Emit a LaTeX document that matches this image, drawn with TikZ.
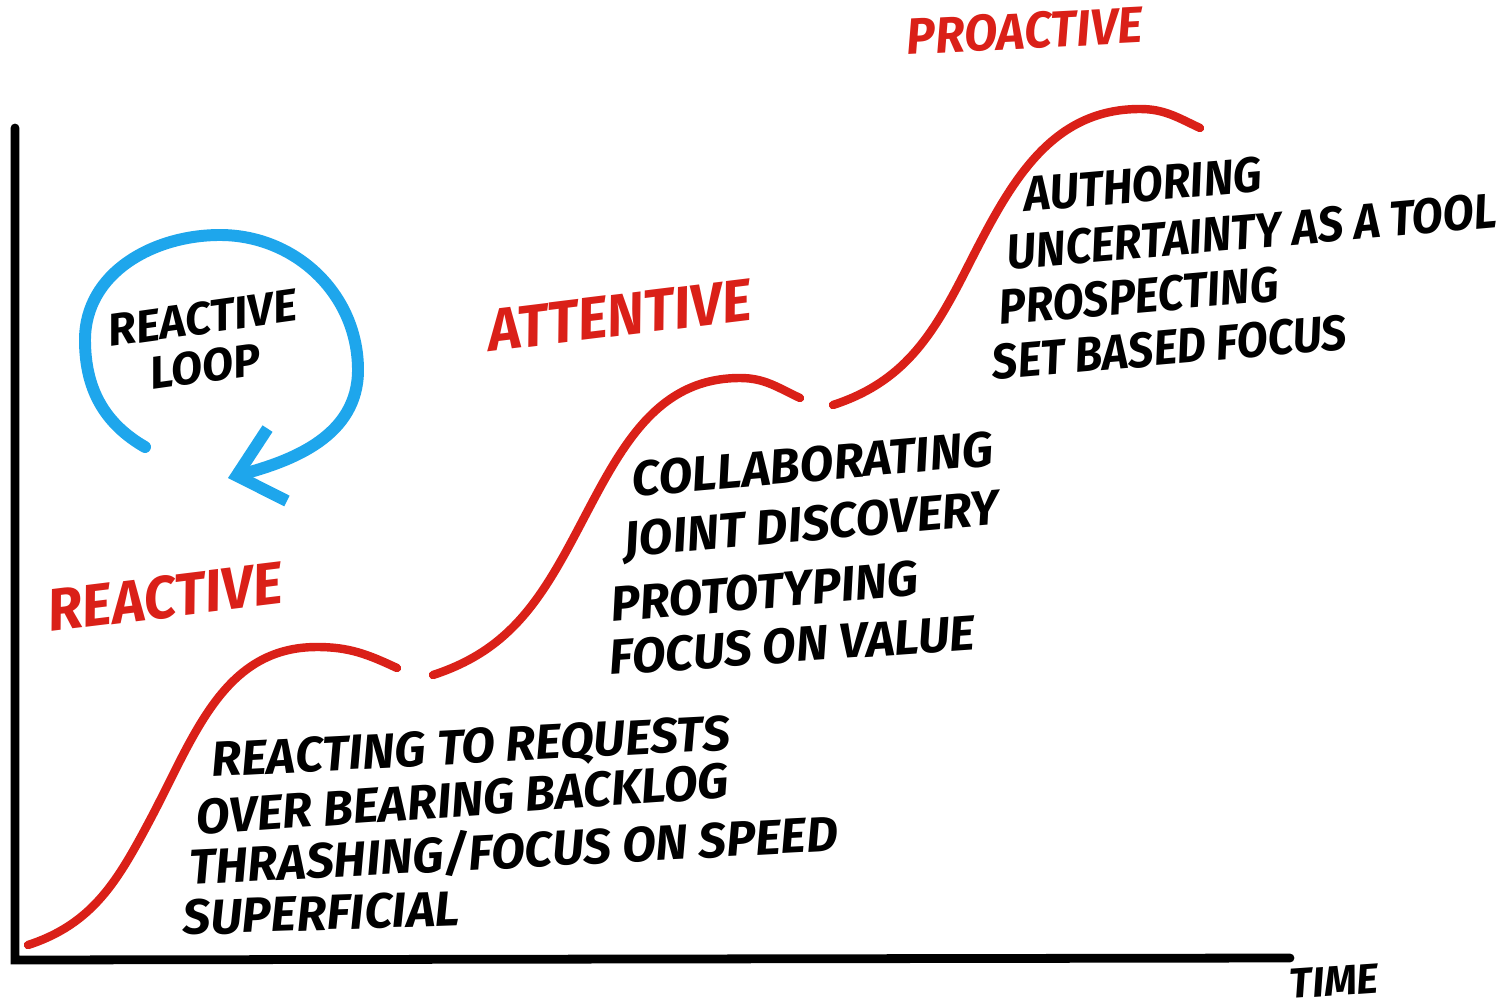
\documentclass[tikz,border=0pt]{standalone}
\usepackage{fontspec}
\newfontfamily\handfont[FakeStretch=1.0]{Fira Sans}
\newfontfamily\narrowhand[FakeStretch=0.92]{Fira Sans}
\newfontfamily\stagehand[FakeStretch=0.95]{Fira Sans}
\usetikzlibrary{arrows.meta}
\definecolor{markerred}{RGB}{218,32,24}
\definecolor{markerblue}{RGB}{30,166,236}
\begin{document}
\begin{tikzpicture}[
    growth/.style={markerred,line width=2.4pt,line cap=round},
    item/.style={anchor=base west,inner sep=0pt,rotate=#1,
                 font=\handfont\bfseries\itshape\fontsize{14}{17}\selectfont},
    narrowitem/.style={item=#1,font=\narrowhand\bfseries\itshape\fontsize{14}{17}\selectfont},
    stage/.style={anchor=base west,inner sep=0pt,text=markerred,
                  font=\stagehand\bfseries\itshape\fontsize{17}{20}\selectfont}]
  \useasboundingbox (0,0) rectangle (14.99,10.07);
  % axes
  \coordinate (top) at (0.15,8.79);
  \coordinate (origin) at (0.15,0.47);
  \coordinate (right) at (12.90,0.49);
  \draw[line width=2.5pt,line cap=round] (top) -- (origin) -- (right);
  \node[anchor=base west,inner sep=0pt,rotate=4,
        font=\handfont\bfseries\itshape\fontsize{12}{14}\selectfont] (time) at (12.90,0.08) {TIME};
  % growth curves
  \draw[growth] (0.28,0.62) to[out=18,in=-118] (1.50,1.87) to[out=62,in=180] (3.17,3.60) to[out=0,in=155] (3.97,3.39);
  \draw[growth] (4.33,3.32) to[out=18,in=-118] (5.75,4.72) to[out=62,in=180] (7.40,6.29) to[out=0,in=155] (8.00,6.09);
  \draw[growth] (8.33,6.02) to[out=18,in=-117] (9.65,7.35) to[out=63,in=180] (11.40,8.98) to[out=0,in=155] (12.00,8.79);
  % stage names
  \node[stage,rotate=7] (reactive) at (0.50,3.75) {REACTIVE};
  \node[stage,rotate=7] (attentive) at (4.90,6.55) {ATTENTIVE};
  \node[stage,rotate=3,font=\stagehand\bfseries\itshape\fontsize{14.5}{17}\selectfont] (proactive) at (9.07,9.52) {PROACTIVE};
  % reactive loop
  \draw[markerblue,line width=3.4pt,line cap=round,-{Straight Barb[length=0.42cm,width=0.75cm]}]
    (1.45,5.60) to[out=150,in=-90] (0.85,6.67) to[out=90,in=180] (2.20,7.72)
    to[out=0,in=90] (3.58,6.37) to[out=-90,in=15] (2.28,5.29);
  \node[item=8,font=\handfont\bfseries\itshape\fontsize{13}{15}\selectfont] (loop1) at (1.10,6.60) {REACTIVE};
  \node[item=8,font=\handfont\bfseries\itshape\fontsize{13}{15}\selectfont] (loop2) at (1.52,6.17) {LOOP};
  % stage lists
  \node[item=3] (r1) at (2.12,2.30) {REACTING TO REQUESTS};
  \node[item=4] (r2) at (1.97,1.72) {OVER BEARING BACKLOG};
  \node[item=3] (r3) at (1.90,1.22) {THRASHING/FOCUS ON SPEED};
  \node[item=2] (r4) at (1.83,0.72) {SUPERFICIAL};
  \node[item=5] (a1) at (6.33,5.10) {COLLABORATING};
  \node[item=5] (a2) at (6.25,4.50) {JOINT DISCOVERY};
  \node[item=5] (a3) at (6.12,3.85) {PROTOTYPING};
  \node[item=4] (a4) at (6.10,3.32) {FOCUS ON VALUE};
  \node[narrowitem=5] (p1) at (10.25,7.95) {AUTHORING};
  \node[narrowitem=5] (p2) at (10.08,7.37) {UNCERTAINTY AS A TOOL};
  \node[narrowitem=5] (p3) at (10.00,6.82) {PROSPECTING};
  \node[narrowitem=5] (p4) at (9.93,6.27) {SET BASED FOCUS};
\end{tikzpicture}
\end{document}
